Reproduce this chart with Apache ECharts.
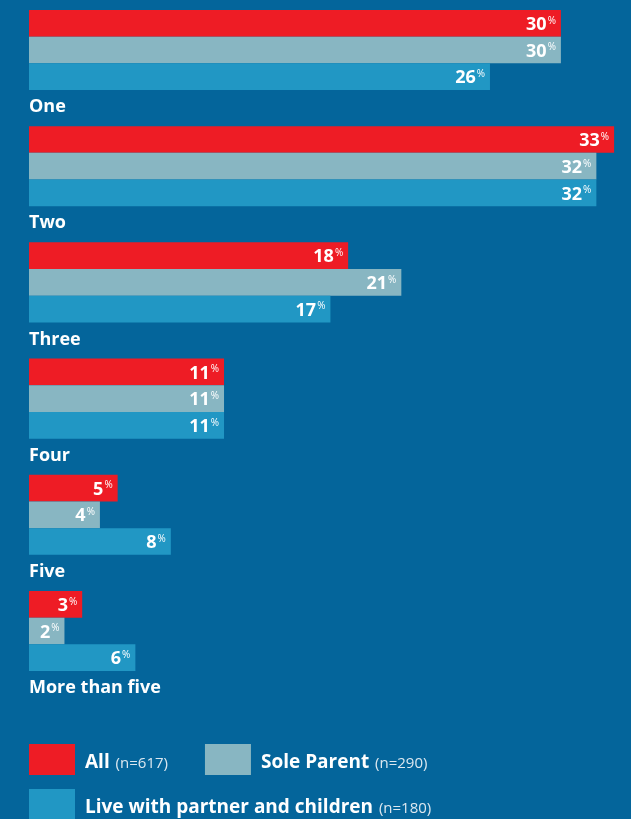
<!DOCTYPE html>
<html>
<head>
<meta charset="utf-8">
<script src="https://cdn.jsdelivr.net/npm/echarts@6/dist/echarts.min.js"></script>
<style>
	html, body { margin: 0; padding: 0; background: #04659b; }
	#chart { width: 631px; height: 819px; }
</style>
</head>
<body>
<div id="chart"></div>
<script>
// 数据
const categories = ["One", "Two", "Three", "Four", "Five", "More than five"]
const allValues = [30, 33, 18, 11, 5, 3]
const soleValues = [30, 32, 21, 11, 4, 2]
const liveValues = [26, 32, 17, 11, 8, 6]
const seriesNames = ["All", "Sole Parent", "Live with partner and children"]
const sampleSizes = [617, 290, 180]
const colors = ["#ee1c25", "#88b6c2", "#2197c4"]

const font = "Open Sans"

const valueLabel = {
	show: true,
	position: "insideRight",
	distance: 5,
	offset: [0, 1.5],
	formatter: p => "{v|" + p.value + "}{p|%}",
	rich: {
		v: { color: "#fff", fontSize: 18, fontWeight: "bold", fontFamily: font, lineHeight: 18 },
		p: { color: "#fff", fontSize: 10, fontFamily: font, verticalAlign: "top", lineHeight: 18, padding: [0, 0, 0, 1] }
	}
}

const seriesData = [allValues, soleValues, liveValues]
let series = []
seriesData.forEach((data, i) => {
	series.push({
		type: "bar",
		name: seriesNames[i],
		data: data,
		barWidth: 26.7,
		barGap: "0%",
		itemStyle: { color: colors[i] },
		label: valueLabel,
		emphasis: { disabled: true }
	})
})
// 占位柱，留出分类标签的空间
series.push({
	type: "bar",
	name: "spacer",
	data: categories.map(() => 0),
	barWidth: 16.2,
	barGap: "0%",
	silent: true,
	itemStyle: { color: "transparent" }
})

const legendText = {
	color: "#fff",
	padding: [6, 0, 0, 5],
	rich: {
		b: { fontSize: 19, fontWeight: "bold", fontFamily: font, color: "#fff" },
		n: { fontSize: 15, fontFamily: font, color: "#dde8f0", padding: [2, 0, 0, 2] }
	}
}
const legendFormatter = name => {
	const n = sampleSizes[seriesNames.indexOf(name)]
	return "{b|" + name + "}{n| (n=" + n + ")}"
}

const option = {
	backgroundColor: "#04659b",
	animation: false,
	grid: { left: 29, top: 0, width: 585.1, height: 697.2, containLabel: false },
	xAxis: { type: "value", min: 0, max: 33, show: false },
	yAxis: {
		type: "category",
		data: categories,
		inverse: true,
		axisLine: { show: false },
		axisTick: { show: false },
		splitLine: { show: false },
		axisLabel: {
			inside: true,
			margin: 0,
			align: "left",
			verticalAlign: "top",
			lineHeight: 18,
			padding: [40, 0, 0, 0],
			color: "#fff",
			fontSize: 18,
			fontWeight: "bold",
			fontFamily: font
		}
	},
	legend: [
		{
			data: seriesNames.slice(0, 2),
			left: 29,
			top: 744,
			padding: 0,
			icon: "rect",
			itemWidth: 46,
			itemHeight: 31,
			itemGap: 37,
			selectedMode: false,
			formatter: legendFormatter,
			textStyle: legendText
		},
		{
			data: seriesNames.slice(2),
			left: 29,
			top: 789,
			padding: 0,
			icon: "rect",
			itemWidth: 46,
			itemHeight: 31,
			selectedMode: false,
			formatter: legendFormatter,
			textStyle: legendText
		}
	],
	series
}

const chart = echarts.init(document.getElementById("chart"))
chart.setOption(option)
window.addEventListener("resize", () => chart.resize())
</script>
</body>
</html>
